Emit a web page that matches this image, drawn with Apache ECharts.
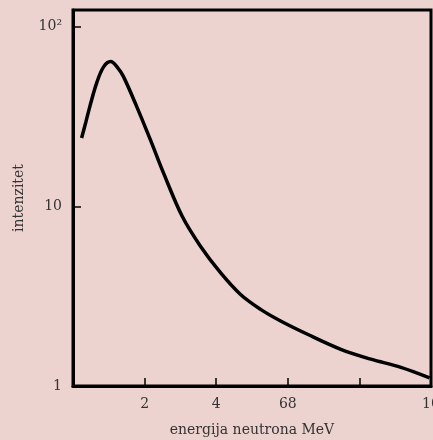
<!DOCTYPE html>
<html>
<head>
<meta charset="utf-8">
<script src="https://cdn.jsdelivr.net/npm/echarts@6/dist/echarts.min.js"></script>
<style>
html,body{margin:0;padding:0;background:#edd3cf;}
#c{width:433px;height:440px;}
</style>
</head>
<body>
<div id="c"></div>
<script>
// Data
const energy = [0.24, 0.36, 0.47, 0.66, 0.85, 1.05, 1.25, 1.41, 1.78, 2.16, 2.53, 3.05, 3.56, 4.12, 4.68, 5.24, 5.80, 6.55, 7.48, 8.32, 9.16, 9.96];
const intensity = [24.0, 29.5, 35.9, 48.5, 59.5, 63.9, 59.0, 52.7, 35.9, 23.5, 15.3, 8.8, 6.0, 4.27, 3.23, 2.67, 2.30, 1.94, 1.60, 1.41, 1.27, 1.11];
const xTickLabels = {2: '2', 4: '4', 6: '68', 8: '', 10: '10'};
const yTickLabels = {1: '1', 10: '10', 100: '10²'};
const xTitle = 'energija neutrona MeV';
const yTitle = 'intenzitet';

const font = 'DejaVu Serif';
const chart = echarts.init(document.getElementById('c'), null, {renderer: 'canvas'});
chart.setOption({
  backgroundColor: '#edd3cf',
  animation: false,
  grid: {left: 73, right: 2, top: 10, bottom: 54, containLabel: false, outerBoundsMode: 'none',
    show: true, borderColor: '#000', borderWidth: 3, backgroundColor: 'transparent'},
  xAxis: {
    type: 'value', min: 0, max: 10, interval: 2,
    name: xTitle, nameLocation: 'middle', nameGap: 37,
    nameTextStyle: {fontFamily: font, fontSize: 14, color: '#333'},
    axisLine: {show: true, lineStyle: {color: '#000', width: 3}},
    axisTick: {show: true, inside: true, length: 8, lineStyle: {color: '#000', width: 1.5}},
    axisLabel: {fontFamily: font, fontSize: 14, color: '#333', margin: 11, hideOverlap: false,
      formatter: v => (xTickLabels[v] !== undefined ? xTickLabels[v] : '')},
    splitLine: {show: false}
  },
  yAxis: {
    type: 'log', min: 1, max: 123.8, logBase: 10,
    name: yTitle, nameLocation: 'middle', nameGap: 47,
    nameTextStyle: {fontFamily: font, fontSize: 14, color: '#333'},
    axisLine: {show: true, lineStyle: {color: '#000', width: 3}},
    axisTick: {show: true, inside: true, length: 8, lineStyle: {color: '#000', width: 1.5}},
    axisLabel: {fontFamily: font, fontSize: 14, color: '#333', margin: 11,
      formatter: v => {
        const r = Math.round(v);
        return (Math.abs(v - r) < 1e-6 && yTickLabels[r] !== undefined) ? yTickLabels[r] : '';
      }},
    splitLine: {show: false}
  },
  series: [{
    type: 'line', smooth: 0.35, showSymbol: false,
    data: energy.map((x, i) => [x, intensity[i]]),
    lineStyle: {color: '#000', width: 3.5}
  }]
});
</script>
</body>
</html>
